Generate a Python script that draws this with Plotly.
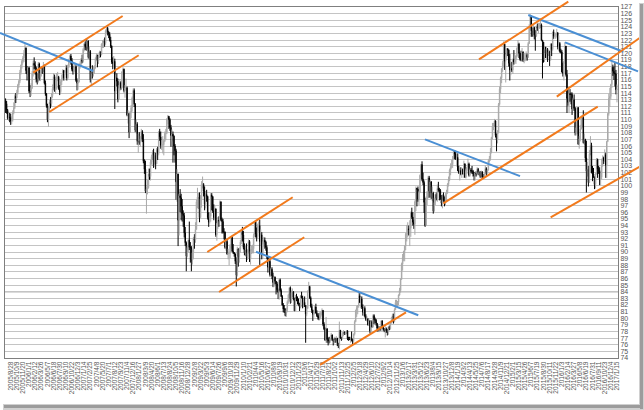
import pandas as pd
import plotly.graph_objects as go

# ---------------- data: weekly USD/JPY candles (week starting Sunday) ----------------
FIRST_WEEK = "2005-07-24"      # first candle
LABEL_START = "2005-08-28"     # first x label (week index 0)
FIRST_OPEN = 112.9

close_2005 = [112.4, 111.4, 110.2, 110.4, 110.3, 109.8, 109.9, 111.0, 111.8, 113.5,
              113.3, 114.1, 115.2, 115.8, 117.1, 118.2, 118.8, 119.3, 120.0, 120.8,
              117.4, 116.9, 117.8]
high_2005 = [113.2, 112.8, 111.6, 111.0, 111.0, 110.9, 110.5, 111.4, 112.6, 113.8,
             114.0, 114.5, 115.4, 116.0, 117.5, 118.3, 119.0, 119.6, 120.5, 121.4,
             120.9, 118.1, 118.0]
low_2005 = [111.0, 110.9, 110.0, 109.8, 109.6, 109.2, 109.3, 109.7, 110.8, 111.6,
            112.5, 113.2, 113.8, 114.8, 115.5, 116.8, 117.7, 118.5, 118.7, 119.6,
            116.9, 115.9, 116.5]

close_2006 = [114.3, 114.3, 114.8, 116.9, 118.5, 118.2, 117.7, 116.1, 115.8, 118.4,
              116.2, 117.0, 117.8, 117.6, 118.1, 115.5, 113.9, 112.1, 110.0, 111.8,
              112.6, 112.4, 113.6, 114.7, 116.5, 114.5, 114.7, 116.4, 116.4, 114.7,
              114.2, 115.7, 116.2, 117.4, 116.3, 117.1, 117.8, 116.3, 118.1, 118.9,
              119.6, 118.9, 117.6, 117.3, 117.8, 118.0, 115.9, 115.5, 115.7, 118.3,
              118.4, 119.0, 118.8]
high_2006 = [118.0, 115.2, 115.5, 117.3, 118.9, 119.4, 118.8, 118.0, 117.0, 118.7,
             118.6, 117.5, 118.1, 118.0, 118.7, 118.3, 115.9, 114.0, 112.4, 112.0,
             113.0, 113.4, 114.0, 115.3, 117.0, 116.8, 115.4, 117.0, 117.2, 116.6,
             115.2, 116.0, 116.8, 117.6, 117.5, 117.5, 118.3, 118.2, 118.3, 119.2,
             119.8, 119.9, 119.3, 118.1, 118.4, 118.5, 118.2, 116.2, 116.2, 118.5,
             118.8, 119.3, 119.8]
low_2006 = [114.0, 113.4, 113.6, 114.6, 116.5, 117.6, 116.8, 115.6, 115.3, 115.6,
            115.9, 115.8, 116.5, 116.9, 117.2, 115.3, 113.6, 111.8, 109.6, 108.9,
            111.1, 111.7, 111.9, 113.3, 114.4, 114.2, 113.9, 114.5, 115.8, 114.5,
            113.7, 114.0, 115.2, 115.9, 115.9, 115.9, 116.8, 115.9, 116.0, 117.8,
            118.6, 118.3, 117.3, 116.8, 117.0, 117.2, 115.7, 114.4, 114.5, 115.6,
            117.7, 118.0, 118.5]

close_2007 = [120.6, 121.4, 121.0, 120.8, 121.9, 119.4, 120.3, 116.0, 117.2, 116.9,
              117.5, 117.8, 119.2, 119.7, 118.8, 119.6, 120.2, 119.8, 121.4, 121.6,
              121.9, 121.6, 123.4, 123.8, 123.2, 122.9, 122.0, 121.1, 118.7, 118.5,
              118.8, 114.3, 116.3, 115.8, 113.1, 114.7, 115.6, 114.8, 117.2, 117.6,
              114.4, 114.8, 114.8, 110.7, 110.9, 108.1, 111.1, 111.8, 113.3, 114.4,
              112.3, 108.4]
high_2007 = [120.8, 121.6, 121.8, 122.2, 122.2, 121.9, 121.0, 120.5, 117.4, 118.2,
             118.0, 118.2, 119.4, 120.0, 119.8, 119.8, 120.4, 120.3, 121.5, 122.0,
             122.1, 122.4, 123.6, 124.1, 124.0, 123.4, 123.2, 122.5, 121.2, 119.4,
             119.6, 119.2, 116.8, 117.0, 116.2, 115.2, 116.1, 115.8, 117.3, 117.9,
             117.7, 115.2, 116.2, 115.0, 111.4, 111.0, 111.3, 112.2, 113.5, 114.7,
             114.7, 112.5]
low_2007 = [118.6, 120.3, 120.5, 120.4, 120.6, 119.2, 119.0, 115.6, 115.2, 116.2,
            116.5, 116.9, 117.7, 119.0, 117.9, 118.4, 119.3, 119.4, 119.7, 120.8,
            120.8, 121.0, 121.3, 122.9, 122.7, 122.3, 121.8, 120.8, 118.4, 117.6,
            117.9, 111.6, 113.9, 115.0, 112.6, 113.2, 114.3, 114.5, 114.7, 116.8,
            114.1, 113.3, 114.4, 110.5, 109.4, 107.2, 108.0, 110.2, 111.2, 112.6,
            111.9, 108.1]

close_2008 = [109.3, 106.7, 106.8, 106.5, 107.1, 108.2, 107.0, 103.7, 102.5, 99.2,
              99.5, 99.7, 101.8, 101.4, 103.6, 104.4, 105.1, 103.0, 104.6, 103.3,
              105.5, 104.9, 108.1, 107.4, 106.1, 106.2, 106.2, 106.8, 107.9, 108.1,
              110.1, 110.5, 110.0, 108.8, 107.6, 107.8, 107.5, 106.0, 105.3, 100.6,
              101.8, 94.8, 98.5, 98.2, 96.9, 95.8, 95.5, 92.9, 91.4, 89.4,
              90.7, 91.8]
high_2008 = [110.0, 109.6, 107.9, 108.1, 107.5, 108.6, 108.4, 107.8, 104.0, 103.8,
             99.9, 100.9, 102.6, 102.6, 103.9, 104.7, 105.4, 105.6, 105.0, 105.0,
             105.7, 105.9, 108.3, 108.6, 108.2, 106.9, 107.5, 107.0, 108.2, 108.6,
             110.2, 110.7, 110.5, 110.2, 109.2, 108.5, 108.2, 107.6, 106.3, 105.6,
             102.5, 101.8, 98.8, 99.5, 98.8, 98.0, 96.3, 95.9, 93.8, 91.6,
             91.0, 91.9]
low_2008 = [107.9, 106.2, 105.0, 106.2, 105.9, 106.7, 106.6, 103.4, 101.8, 98.9,
            95.8, 98.7, 99.6, 100.9, 100.8, 103.2, 103.9, 102.7, 102.9, 102.5,
            103.3, 103.9, 104.6, 106.8, 105.6, 105.4, 104.9, 104.6, 106.6, 106.9,
            107.8, 109.3, 108.6, 108.3, 105.9, 106.7, 103.5, 104.6, 103.5, 97.9,
            97.6, 90.9, 92.5, 96.0, 94.8, 94.6, 93.8, 92.2, 90.9, 87.1,
            89.2, 89.9]

close_2009 = [90.7, 90.7, 88.8, 89.9, 92.0, 91.8, 93.4, 97.6, 98.3, 98.3,
              95.2, 98.0, 100.2, 100.2, 99.2, 97.2, 98.7, 98.4, 95.2, 94.5,
              95.4, 98.6, 98.4, 96.2, 95.2, 96.5, 92.6, 94.3, 94.8, 94.7,
              97.6, 94.9, 94.6, 93.0, 93.0, 90.7, 91.6, 89.7, 89.8, 89.8,
              90.9, 92.2, 90.1, 89.9, 89.7, 88.6, 86.5, 90.5, 89.3, 90.4,
              91.5, 93.0]
high_2009 = [94.6, 91.5, 90.9, 90.4, 92.3, 92.7, 94.5, 97.9, 99.7, 98.9,
             99.0, 98.6, 100.7, 101.4, 100.4, 99.9, 99.2, 99.4, 98.5, 96.0,
             96.0, 98.9, 98.9, 97.8, 97.2, 97.0, 96.6, 94.3, 95.3, 95.4,
             97.8, 97.6, 95.2, 95.0, 93.6, 93.1, 92.0, 92.0, 90.5, 90.1,
             91.2, 92.3, 92.4, 91.2, 90.0, 89.8, 89.2, 90.8, 90.2, 90.7,
             91.8, 93.2]
low_2009 = [90.3, 88.4, 87.1, 88.1, 88.9, 90.5, 91.4, 93.6, 96.6, 96.5,
            94.5, 95.3, 96.7, 99.6, 98.4, 96.3, 96.6, 97.6, 94.9, 93.8,
            94.3, 94.6, 96.3, 95.9, 94.8, 95.0, 92.3, 91.7, 93.5, 93.8,
            94.5, 94.7, 92.8, 92.8, 91.9, 90.5, 90.2, 89.6, 88.9, 88.0,
            89.1, 90.5, 90.0, 89.7, 89.3, 88.2, 84.8, 86.3, 87.8, 88.4,
            89.9, 91.2]

close_2010 = [92.6, 90.7, 89.9, 90.3, 89.3, 89.9, 91.6, 89.0, 90.1, 90.5,
              90.5, 92.5, 94.6, 92.7, 92.3, 93.9, 94.0, 91.6, 92.6, 90.0,
              91.2, 91.8, 91.5, 90.7, 89.3, 87.7, 88.6, 86.6, 87.4, 86.4,
              85.4, 86.2, 85.6, 85.2, 84.3, 83.9, 85.8, 84.2, 83.3, 82.0,
              81.4, 81.4, 80.4, 81.3, 82.5, 83.5, 84.6, 82.5, 83.9, 84.0,
              82.9, 81.1]
high_2010 = [93.8, 93.2, 91.3, 90.9, 91.3, 90.4, 91.9, 91.8, 90.4, 91.0,
             91.1, 92.8, 94.7, 94.6, 93.7, 94.3, 94.6, 94.9, 93.4, 93.0,
             91.6, 92.3, 92.2, 91.7, 91.0, 89.4, 88.9, 89.0, 87.6, 87.7,
             86.9, 86.4, 86.3, 85.6, 85.5, 84.5, 85.9, 86.0, 84.5, 83.5,
             82.3, 82.0, 81.5, 81.6, 82.7, 83.7, 84.7, 84.8, 84.2, 84.5,
             84.1, 83.1]
low_2010 = [91.6, 90.4, 89.5, 89.4, 88.5, 88.8, 89.8, 88.5, 88.1, 89.7,
            89.8, 89.8, 92.3, 92.2, 91.6, 92.1, 93.1, 87.9, 91.0, 88.9,
            89.1, 90.8, 90.5, 90.2, 88.9, 86.9, 87.3, 86.3, 86.4, 85.9,
            84.7, 84.7, 85.1, 83.6, 84.0, 82.9, 82.8, 84.0, 83.2, 81.9,
            80.9, 80.8, 80.3, 80.2, 80.9, 82.2, 83.0, 82.2, 82.3, 83.2,
            82.7, 81.1]

close_2011 = [83.2, 82.9, 82.5, 82.1, 81.7, 83.4, 83.1, 81.7, 82.4, 81.9,
              80.6, 81.5, 84.1, 84.8, 83.1, 81.8, 81.2, 80.6, 80.8, 81.7,
              80.8, 80.4, 80.2, 80.0, 80.4, 80.8, 81.2, 79.1, 78.4, 76.7,
              78.4, 76.8, 76.6, 76.6, 76.8, 77.5, 76.8, 76.5, 77.0, 76.7,
              77.0, 76.2, 75.8, 78.2, 77.0, 76.9, 77.7, 77.9, 77.6, 77.8,
              78.1, 76.9]
high_2011 = [83.5, 83.7, 83.3, 83.0, 82.3, 83.5, 84.0, 83.4, 82.8, 83.3,
             82.0, 81.6, 84.2, 85.5, 84.9, 83.3, 82.2, 81.3, 81.2, 81.9,
             82.2, 81.2, 80.6, 80.8, 81.0, 81.1, 81.5, 81.2, 79.4, 78.6,
             80.2, 78.5, 77.1, 77.2, 77.0, 77.8, 77.5, 76.9, 77.2, 77.0,
             77.3, 77.0, 76.3, 79.5, 78.2, 77.2, 77.9, 78.2, 78.0, 78.0,
             78.2, 78.2]
low_2011 = [81.2, 82.6, 82.1, 81.9, 81.1, 81.5, 83.0, 81.5, 81.7, 81.7,
            76.3, 80.3, 81.4, 83.9, 82.9, 81.6, 80.8, 79.6, 80.1, 80.6,
            80.7, 80.2, 79.8, 79.7, 79.8, 80.1, 80.5, 78.8, 78.2, 76.6,
            76.3, 76.3, 75.9, 76.2, 76.3, 76.6, 76.6, 75.9, 76.2, 76.3,
            76.5, 75.8, 75.5, 75.3, 76.9, 76.6, 76.8, 77.3, 77.5, 77.5,
            77.6, 76.7]

close_2012 = [76.9, 76.9, 77.0, 76.7, 76.6, 77.6, 79.5, 81.2, 81.6, 81.9,
              83.4, 82.4, 82.9, 81.7, 80.9, 81.5, 80.3, 79.8, 79.9, 79.0,
              79.6, 78.1, 79.5, 78.7, 80.4, 79.8, 79.7, 79.2, 78.5, 78.2,
              78.4, 78.3, 79.6, 78.7, 78.3, 78.2, 78.4, 78.1, 77.9, 78.7,
              78.4, 79.3, 79.6, 80.4, 79.5, 81.3, 82.4, 82.4, 82.4, 83.5,
              84.2, 85.9, 88.2]
high_2012 = [77.2, 77.2, 77.2, 78.0, 76.9, 77.7, 79.7, 81.3, 81.9, 82.0,
             84.2, 83.8, 83.2, 83.3, 82.1, 81.8, 81.8, 80.6, 80.3, 80.0,
             79.9, 79.7, 79.7, 79.7, 80.6, 80.6, 80.1, 79.9, 79.3, 78.9,
             78.8, 78.8, 79.7, 79.7, 78.7, 78.5, 78.8, 78.6, 78.4, 78.8,
             78.9, 79.5, 80.2, 80.7, 80.7, 81.5, 82.8, 82.8, 82.6, 83.6,
             84.6, 86.0, 88.4]
low_2012 = [76.6, 76.7, 76.3, 76.5, 76.0, 76.3, 77.4, 79.4, 80.2, 80.6,
            81.6, 82.3, 81.5, 81.4, 80.4, 80.3, 80.1, 79.6, 79.5, 78.9,
            78.9, 77.7, 77.9, 78.6, 78.6, 79.1, 79.3, 78.9, 78.0, 78.0,
            77.9, 78.1, 78.1, 78.5, 78.1, 77.9, 77.1, 77.8, 77.4, 77.5,
            78.2, 78.3, 79.2, 79.4, 79.2, 79.4, 81.3, 81.7, 81.7, 82.0,
            83.4, 83.9, 85.8]

close_2013 = [89.2, 90.1, 90.9, 92.7, 92.7, 93.5, 93.4, 93.6, 96.0, 95.3,
              94.5, 94.2, 97.6, 99.6, 99.5, 98.0, 99.0, 101.6, 103.2, 101.0,
              100.5, 97.5, 94.0, 97.9, 99.1, 101.2, 99.2, 100.6, 98.2, 98.9,
              96.2, 97.5, 98.7, 98.1, 99.6, 99.4, 99.3, 98.3, 97.4, 98.6,
              97.8, 97.4, 98.7, 99.1, 100.2, 101.0, 102.4, 102.9, 103.2, 104.1,
              105.3, 104.8]
high_2013 = [89.7, 90.2, 91.0, 92.9, 94.1, 94.5, 94.0, 94.8, 96.1, 96.7,
             96.0, 94.9, 97.8, 99.9, 99.7, 99.9, 99.2, 101.7, 103.3, 103.7,
             102.0, 100.8, 98.2, 98.4, 99.2, 101.5, 101.5, 100.9, 100.7, 99.9,
             99.1, 98.2, 98.8, 99.0, 100.2, 100.6, 99.7, 99.5, 98.6, 98.7,
             99.0, 98.4, 98.9, 99.4, 100.4, 101.4, 102.6, 103.4, 103.9, 104.5,
             105.4, 105.4]
low_2013 = [87.2, 88.6, 88.6, 90.3, 91.6, 92.2, 92.5, 90.9, 92.3, 95.0,
            94.0, 93.5, 92.6, 96.2, 96.9, 97.6, 97.1, 98.9, 101.2, 100.7,
            100.1, 95.9, 93.8, 94.1, 97.1, 98.1, 98.2, 99.1, 98.0, 97.7,
            95.8, 96.1, 97.1, 97.8, 97.6, 99.1, 97.8, 97.9, 96.9, 96.6,
            97.6, 96.9, 97.1, 97.6, 98.8, 99.9, 100.7, 101.6, 102.6, 102.7,
            104.0, 104.0]

close_2014 = [104.1, 104.3, 102.3, 102.0, 102.3, 101.8, 102.5, 101.8, 103.3, 101.3,
              102.3, 102.8, 103.3, 101.6, 102.4, 102.2, 102.2, 101.8, 101.5, 101.9,
              101.8, 102.5, 102.0, 102.1, 101.4, 102.1, 101.3, 101.3, 101.8, 102.6,
              102.0, 102.4, 103.8, 104.1, 105.1, 107.3, 109.0, 109.3, 109.8, 107.6,
              106.9, 108.1, 112.3, 114.6, 116.3, 117.7, 118.6, 121.4, 118.8, 119.5,
              120.7, 120.5]
high_2014 = [105.2, 104.9, 104.9, 103.0, 102.7, 102.8, 102.7, 102.6, 103.8, 103.4,
             102.6, 102.9, 104.1, 103.5, 102.6, 102.7, 103.0, 102.4, 102.1, 101.9,
             102.2, 102.8, 102.7, 102.3, 102.2, 102.3, 102.2, 101.8, 101.9, 103.1,
             102.8, 102.5, 104.0, 104.5, 105.7, 107.4, 109.5, 109.5, 110.1, 109.9,
             107.9, 108.4, 112.5, 115.0, 116.5, 117.8, 118.9, 121.8, 121.4, 119.8,
             120.8, 120.8]
low_2014 = [103.9, 102.9, 102.2, 101.8, 100.8, 101.6, 101.2, 101.7, 101.2, 101.2,
            101.1, 101.8, 102.8, 101.4, 101.4, 101.9, 101.8, 101.4, 100.8, 100.8,
            101.4, 101.8, 101.6, 101.7, 101.2, 101.2, 101.1, 101.1, 101.2, 101.8,
            101.5, 101.8, 102.3, 103.5, 103.8, 104.9, 107.0, 108.4, 108.9, 107.3,
            105.2, 106.4, 107.9, 112.1, 114.0, 115.5, 117.2, 117.9, 117.5, 115.6,
            119.2, 119.6]

close_2015 = [118.5, 117.5, 117.7, 117.5, 119.1, 118.7, 119.0, 119.6, 120.8, 121.4,
              120.0, 119.1, 119.0, 120.2, 118.9, 119.0, 119.2, 119.8, 119.4, 121.5,
              124.1, 125.6, 123.4, 122.7, 123.9, 122.8, 122.6, 124.0, 123.8, 123.9,
              124.2, 124.3, 122.0, 121.7, 119.0, 120.6, 120.0, 120.6, 119.9, 120.2,
              119.0, 121.4, 120.6, 123.2, 122.6, 122.8, 122.8, 123.1, 121.0, 121.5,
              120.3, 120.2]
high_2015 = [120.6, 119.9, 118.9, 118.7, 119.2, 120.5, 119.6, 119.8, 120.9, 122.0,
             121.6, 120.1, 120.4, 120.8, 120.3, 120.1, 120.0, 120.3, 120.0, 121.7,
             124.4, 125.9, 125.7, 123.9, 124.5, 124.0, 123.5, 124.2, 124.5, 124.6,
             124.6, 125.3, 124.5, 122.0, 121.7, 121.0, 121.0, 121.0, 120.8, 120.5,
             120.4, 121.5, 121.5, 123.3, 123.6, 123.2, 123.1, 123.7, 123.2, 122.7,
             121.7, 120.7]
low_2015 = [118.0, 115.9, 116.7, 117.2, 116.9, 118.3, 118.5, 118.4, 119.4, 120.6,
            119.3, 118.9, 118.8, 118.8, 118.7, 118.5, 118.8, 118.9, 118.9, 119.3,
            121.4, 123.8, 122.5, 122.5, 122.5, 122.1, 120.4, 122.5, 123.4, 123.0,
            123.7, 123.8, 121.9, 116.2, 118.6, 118.7, 119.3, 119.2, 118.7, 119.6,
            118.1, 118.9, 119.6, 120.4, 122.2, 122.5, 122.2, 122.4, 120.6, 120.3,
            120.1, 120.0]

close_2016 = [117.2, 117.0, 118.8, 121.1, 116.8, 113.2, 112.6, 113.9, 113.8, 113.8,
              111.6, 113.0, 111.7, 108.0, 108.8, 111.8, 106.3, 107.1, 108.6, 110.2,
              110.3, 106.5, 107.0, 104.2, 102.2, 102.5, 100.5, 104.8, 106.1, 102.0,
              101.8, 101.3, 100.2, 101.8, 104.0, 102.5, 102.3, 101.0, 101.3, 103.0,
              104.2, 103.8, 104.7, 103.1, 106.7, 110.9, 113.2, 113.5, 115.3, 117.9,
              117.3, 117.0]
high_2016 = [120.5, 118.6, 118.9, 121.7, 121.1, 117.5, 114.9, 114.0, 114.6, 114.1,
             114.1, 113.3, 113.8, 111.9, 109.7, 111.9, 111.9, 107.5, 109.2, 110.6,
             110.6, 111.4, 107.9, 107.1, 106.8, 103.6, 103.0, 105.4, 107.5, 106.5,
             103.0, 102.7, 101.4, 102.0, 104.2, 104.1, 103.0, 102.8, 101.9, 104.1,
             104.6, 104.4, 105.5, 105.0, 106.8, 111.0, 113.9, 114.8, 115.4, 118.7,
             118.3, 118.0]
low_2016 = [117.1, 116.5, 115.9, 118.4, 116.5, 111.0, 112.1, 111.0, 112.7, 112.3,
            110.7, 111.4, 111.3, 107.6, 107.6, 107.8, 106.2, 105.6, 106.7, 108.5,
            108.8, 106.4, 106.2, 103.6, 99.0, 101.4, 99.9, 100.5, 104.6, 101.9,
            100.7, 101.2, 99.5, 99.6, 101.7, 101.2, 101.8, 100.1, 100.1, 101.0,
            102.9, 103.3, 103.6, 101.2, 101.2, 106.6, 110.6, 111.9, 113.1, 114.8,
            116.6, 116.0]

close_2017 = [116.9, 114.5, 114.6]
high_2017 = [118.6, 117.5, 115.3]
low_2017 = [115.0, 113.8, 112.6]

# trend lines drawn on the chart: [week0, price0, week1, price1] (week 0 = 2005/8/28)
blue_lines = [
    [-10.5, 123.07, 80.9, 117.34],
    [240.3, 90.05, 399.3, 80.45],
    [405.9, 107.02, 499.0, 101.46],
    [507.1, 125.79, 600.2, 120.25],
    [543.1, 121.66, 614.6, 117.28],
]
orange_lines = [
    [22.1, 117.08, 109.7, 125.64],
    [37.8, 111.15, 125.4, 119.71],
    [192.6, 90.01, 276.3, 98.27],
    [204.1, 83.97, 287.6, 92.23],
    [303.0, 72.95, 387.3, 80.90],
    [423.8, 97.36, 575.1, 111.95],
    [458.8, 119.10, 546.3, 127.80],
    [535.0, 113.47, 619.6, 122.70],
    [529.0, 95.25, 619.8, 103.19],
]
EMPHASIS_LEVEL = 84
Y_MIN, Y_MAX = 74, 127

# ---------------- assemble ----------------
years = ["2005", "2006", "2007", "2008", "2009", "2010", "2011", "2012",
         "2013", "2014", "2015", "2016", "2017"]
g = globals()
closes = sum((g["close_" + y] for y in years), [])
highs = sum((g["high_" + y] for y in years), [])
lows = sum((g["low_" + y] for y in years), [])
opens = [FIRST_OPEN] + closes[:-1]
highs = [max(h, o, c) for h, o, c in zip(highs, opens, closes)]
lows = [min(l, o, c) for l, o, c in zip(lows, opens, closes)]

n = len(closes)
dates = pd.date_range(FIRST_WEEK, periods=n, freq="7D")
lead = (pd.Timestamp(LABEL_START) - pd.Timestamp(FIRST_WEEK)).days // 7
week = [i - lead for i in range(n)]
label_weeks = [w for w in week if w >= 0 and w % 6 == 0]
label_text = [f"{dates[w + lead].year}/{dates[w + lead].month}/{dates[w + lead].day}"
              for w in label_weeks]

# ---------------- layout geometry (pixels) ----------------
W, H = 644, 410
PL, PR, PT, PB = 5, 618, 7, 358
X_RANGE = [-5.58, 595.0]
Y_RANGE = [Y_MIN, Y_MAX]
xdom = [PL / W, PR / W]
ydom = [1 - PB / H, 1 - PT / H]
ux = (X_RANGE[1] - X_RANGE[0]) / (PR - PL)
uy = (Y_RANGE[1] - Y_RANGE[0]) / (PB - PT)
X2_RANGE = [X_RANGE[0] - PL * ux, X_RANGE[1] + (W - PR) * ux]
Y2_RANGE = [Y_RANGE[0] - (H - PB) * uy, Y_RANGE[1] + PT * uy]

fig = go.Figure()
fig.add_trace(go.Candlestick(
    x=week, open=opens, high=highs, low=lows, close=closes,
    increasing=dict(line=dict(color="#a8a8a8", width=1), fillcolor="#d4d4d4"),
    decreasing=dict(line=dict(color="#000000", width=1), fillcolor="#000000"),
    whiskerwidth=0, showlegend=False, hoverinfo="skip",
))

for seg in blue_lines:
    fig.add_trace(go.Scatter(x=[seg[0], seg[2]], y=[seg[1], seg[3]], xaxis="x2", yaxis="y2",
                             mode="lines", line=dict(color="#4a8fd4", width=2),
                             showlegend=False, hoverinfo="skip"))
for seg in orange_lines:
    fig.add_trace(go.Scatter(x=[seg[0], seg[2]], y=[seg[1], seg[3]], xaxis="x2", yaxis="y2",
                             mode="lines", line=dict(color="#f27a1c", width=2),
                             showlegend=False, hoverinfo="skip"))

fig.add_shape(type="line", xref="x domain", yref="y", x0=0, x1=1,
              y0=EMPHASIS_LEVEL, y1=EMPHASIS_LEVEL,
              line=dict(color="#7a7a7a", width=1), layer="below")

# screenshot-style drop shadow along the right and bottom edges of the picture
def px_rect(x0, y0, x1, y1, color):
    fig.add_shape(type="rect", xref="paper", yref="paper",
                  x0=x0 / W, x1=x1 / W, y0=1 - y1 / H, y1=1 - y0 / H,
                  line=dict(width=0), fillcolor=color, layer="above")

px_rect(639, 3, 644, 410, "#d0d0d0")
px_rect(3, 404, 644, 410, "#d0d0d0")
px_rect(640, 4, 643, 409, "#9c9c9c")
px_rect(4, 405, 643, 408, "#9c9c9c")

FONT = "Liberation Sans"
fig.update_layout(
    width=W, height=H, margin=dict(l=0, r=0, t=0, b=0),
    paper_bgcolor="white", plot_bgcolor="rgba(0,0,0,0)",
    font=dict(family=FONT),
    showlegend=False,
    xaxis=dict(domain=xdom, range=X_RANGE, anchor="y",
               tickmode="array", tickvals=label_weeks, ticktext=label_text,
               tickangle=-90, tickfont=dict(size=6.5, color="#555555", family=FONT),
               showgrid=False, zeroline=False, showline=True, mirror=True,
               linecolor="#7f7f7f", linewidth=1, ticks="",
               rangeslider=dict(visible=False), fixedrange=True, automargin=False),
    yaxis=dict(domain=ydom, range=Y_RANGE, anchor="x", side="right",
               tickmode="linear", tick0=Y_MIN, dtick=1,
               tickfont=dict(size=7, color="#555555", family=FONT),
               showgrid=True, gridcolor="#c4c4c4", gridwidth=1, zeroline=False,
               showline=True, mirror=True, linecolor="#7f7f7f", linewidth=1,
               ticks="", fixedrange=True, automargin=False),
    xaxis2=dict(domain=[0, 1], range=X2_RANGE, anchor="y2", visible=False, fixedrange=True),
    yaxis2=dict(domain=[0, 1], range=Y2_RANGE, anchor="x2", visible=False, fixedrange=True),
)

fig.write_html("out.html")
